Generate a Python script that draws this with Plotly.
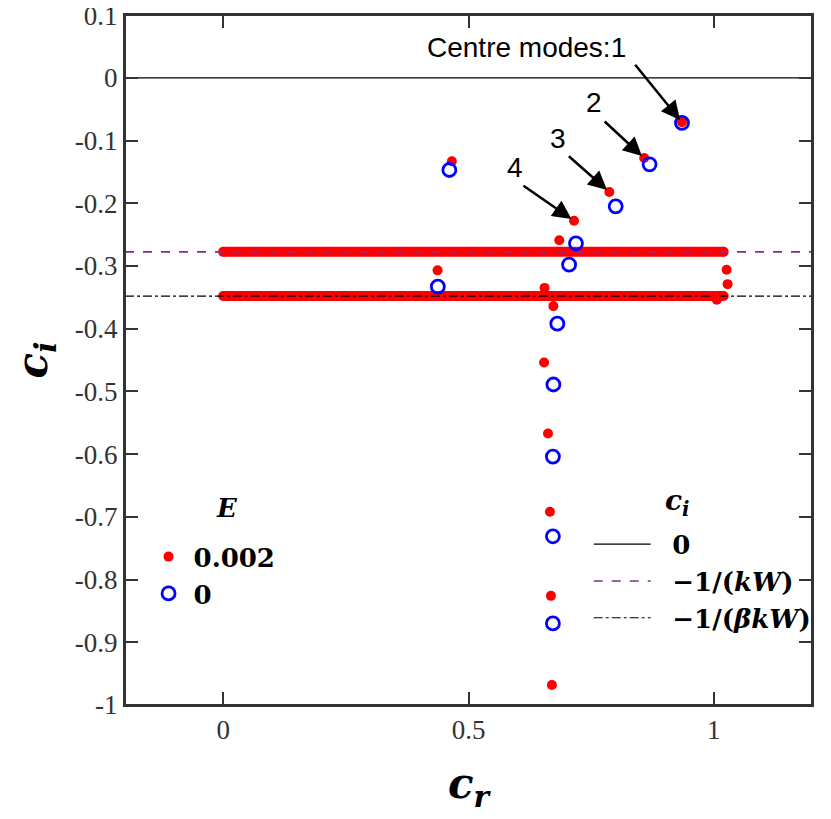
import plotly.graph_objects as go

# continuous spectrum bands (E = 0.002)
band_x = [0.0, 1.02]
band_upper = -0.2775
band_lower = -0.348

# discrete eigenvalues, E = 0.002 (red dots)
red_cr = [0.935, 0.858, 0.787, 0.715, 0.466, 0.685, 0.437, 0.655, 0.673,
          0.654, 0.662, 0.666, 0.668, 0.670, 1.026, 1.028, 1.006]
red_ci = [-0.071, -0.128, -0.182, -0.228, -0.133, -0.259, -0.307, -0.335, -0.364,
          -0.454, -0.567, -0.692, -0.826, -0.968, -0.306, -0.329, -0.354]

# discrete eigenvalues, E = 0 (blue circles)
blue_cr = [0.935, 0.869, 0.800, 0.461, 0.719, 0.705, 0.4375, 0.681,
           0.673, 0.672, 0.672, 0.672]
blue_ci = [-0.072, -0.138, -0.205, -0.147, -0.264, -0.298, -0.333, -0.392,
           -0.489, -0.604, -0.731, -0.870]

# reference lines
ref_names = ["0", "\u22121/(<i>kW</i>)", "\u22121/(<i>\u03b2kW</i>)"]
ref_values = [0.0, band_upper, band_lower]
ref_colors = ["black", "#7E2F8E", "black"]
ref_dash = ["solid", "dash", "dashdot"]
ref_width = [1.2, 1.6, 1.2]

# centre modes and arrow offsets (pixels)
mode_idx = [0, 1, 2, 3]
mode_labels = ["Centre modes:1", "2", "3", "4"]
label_x = [0.6185, 0.756, 0.683, 0.595]
label_y = [0.049, -0.040, -0.096, -0.1435]
arrow_ax = [-48, -41, -42, -52]
arrow_ay = [-59, -38, -37, -36]

yticks = [0.1, 0, -0.1, -0.2, -0.3, -0.4, -0.5, -0.6, -0.7, -0.8, -0.9, -1]
yticktext = ["0.1", "0", "-0.1", "-0.2", "-0.3", "-0.4", "-0.5", "-0.6", "-0.7", "-0.8", "-0.9", "-1"]
xticks = [0, 0.5, 1]
xticktext = ["0", "0.5", "1"]

fig = go.Figure()

for yb in [band_upper, band_lower]:
    fig.add_trace(go.Scatter(x=band_x, y=[yb, yb], mode="lines+markers",
                             line=dict(color="red", width=10),
                             marker=dict(color="red", size=10),
                             showlegend=False, hoverinfo="skip"))

for name, val, col, dsh, w in zip(ref_names, ref_values, ref_colors, ref_dash, ref_width):
    fig.add_trace(go.Scatter(x=[-0.2, 1.2], y=[val, val], mode="lines",
                             name="\u00a0\u00a0<b>" + name + "</b>",
                             line=dict(color=col, dash=dsh, width=w),
                             legend="legend2"))

fig.add_trace(go.Scatter(x=red_cr, y=red_ci, mode="markers", name="<b>0.002</b>",
                         marker=dict(color="red", size=10, line=dict(width=0)),
                         legend="legend"))
fig.add_trace(go.Scatter(x=blue_cr, y=blue_ci, mode="markers", name="<b>0</b>",
                         marker=dict(symbol="circle-open", color="blue", size=13,
                                     line=dict(width=2.8)),
                         legend="legend"))

for i, lab, lx, ly, ax, ay in zip(mode_idx, mode_labels, label_x, label_y, arrow_ax, arrow_ay):
    fig.add_annotation(x=red_cr[i], y=red_ci[i], ax=ax, ay=ay, text="",
                       showarrow=True, arrowhead=2, arrowsize=1.5, arrowwidth=2.5,
                       arrowcolor="black", standoff=3)
    fig.add_annotation(x=lx, y=ly, text=lab, showarrow=False,
                       font=dict(family="Liberation Sans", size=28, color="black"))

# legend titles
fig.add_annotation(x=0.1485, y=0.2855, xref="paper", yref="paper", text="<b><i>E</i></b>",
                   xanchor="center", yanchor="middle", showarrow=False,
                   font=dict(family="DejaVu Serif", size=26, color="black"))
fig.add_annotation(x=0.8035, y=0.293, xref="paper", yref="paper",
                   text="<b><i>c<sub>i</sub></i></b>", xanchor="center", yanchor="middle",
                   showarrow=False, font=dict(family="DejaVu Serif", size=28, color="black"))

# plot frame
fig.add_shape(type="rect", xref="paper", yref="paper", x0=0, x1=1, y0=0, y1=1,
              line=dict(color="#333333", width=2), layer="above")

axis_common = dict(showline=True, linecolor="#333333", linewidth=2, mirror="ticks",
                   ticks="inside", ticklen=13, tickwidth=2, tickcolor="#333333",
                   showgrid=False, zeroline=False, automargin=False,
                   ticklabeloverflow="allow",
                   tickfont=dict(family="Liberation Serif", size=27, color="#333333"))

fig.update_xaxes(range=[-0.2, 1.2], tickvals=xticks, ticktext=xticktext,
                 title=dict(text="<b><i>c<sub>r</sub></i></b>", standoff=24,
                            font=dict(family="DejaVu Serif", size=42, color="black")),
                 **axis_common)
fig.update_yaxes(range=[-1, 0.1001], tickvals=yticks, ticktext=yticktext,
                 title=dict(text="<b><i>c<sub>i</sub></i></b>", standoff=14,
                            font=dict(family="DejaVu Serif", size=42, color="black")),
                 **axis_common)

fig.update_layout(
    width=831, height=819,
    margin=dict(l=117, r=27, t=7, b=122),
    plot_bgcolor="white", paper_bgcolor="white",
    legend=dict(x=0.027, y=0.249, xanchor="left", yanchor="top", itemwidth=40,
                bgcolor="rgba(0,0,0,0)",
                font=dict(family="DejaVu Serif", size=26, color="black")),
    legend2=dict(x=0.675, y=0.267, xanchor="left", yanchor="top", itemwidth=57,
                 bgcolor="rgba(0,0,0,0)",
                 font=dict(family="DejaVu Serif", size=26, color="black")),
)

fig.write_html("out.html", config={"displayModeBar": False})
